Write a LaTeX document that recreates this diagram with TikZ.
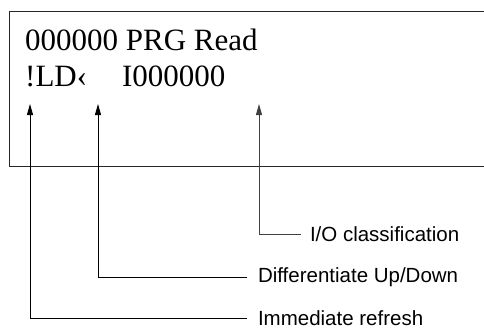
\documentclass[tikz,border=0pt]{standalone}
\usepackage{fontspec}
\setmainfont{Liberation Serif}
\newfontfamily\lblfont{Liberation Sans}
\usetikzlibrary{arrows.meta}
\begin{document}
\begin{tikzpicture}[x=1pt,y=-1pt,
  scr/.style={anchor=base west,inner sep=0pt,font=\fontsize{31}{36}\selectfont},
  lbl/.style={anchor=west,inner sep=0pt,outer xsep=11pt,font=\lblfont\fontsize{20.5}{24}\selectfont},
  arr/.style={-{Triangle[length=11pt,width=6pt]},line width=0.8pt}]
\useasboundingbox (0,0) rectangle (484,330);
\clip (0,0) rectangle (484,330);
\draw[line width=1pt,black!85] (9,11) rectangle (495,166);
\node[scr] (hdr) at (25,50) {000000 PRG Read};
\node[scr] (cmd) at (25,86) {!LD‹\hspace{35pt}I000000};
\coordinate (tImm) at (30,104); \coordinate (tDif) at (98,104); \coordinate (tIO) at (259,104);
\node[lbl] (io) at (301,234) [outer xsep=9pt] {I/O classification};
\node[lbl] (dif) at (247,277) {Differentiate Up/Down};
\node[lbl] (imm) at (247,318) {Immediate refresh};
\draw[arr] (imm.west) -| (tImm);
\draw[arr] (dif.west) -| (tDif);
\draw[arr,black!75] (io.west) -| (tIO);
\end{tikzpicture}
\end{document}
